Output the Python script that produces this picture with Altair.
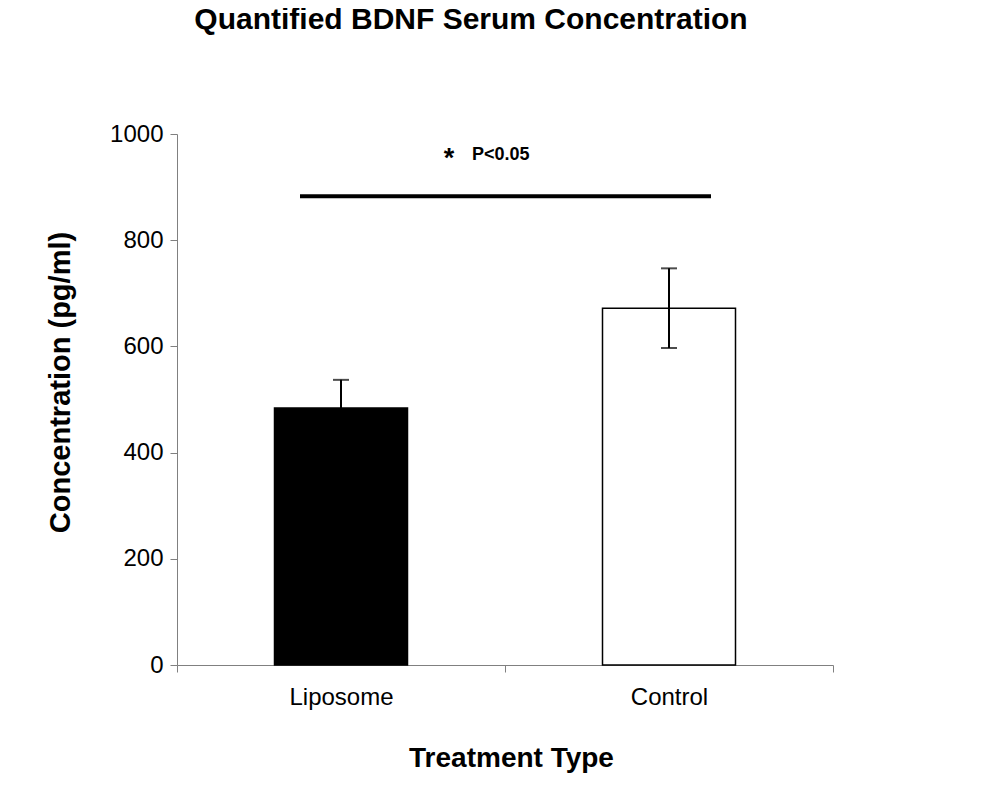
import altair as alt
import pandas as pd

# Data
categories = ["Liposome", "Control"]
means = [484, 672]
sems = [53, 75]
fills = ["#000000", "#ffffff"]
sig_y = [883]
sig_label_y = [960]

df = pd.DataFrame({
    "treatment": categories,
    "mean": means,
    "lower": [m - s for m, s in zip(means, sems)],
    "upper": [m + s for m, s in zip(means, sems)],
    "fill": fills,
})

FONT = "Liberation Sans"

x_enc = alt.X(
    "treatment:N",
    sort=categories,
    scale=alt.Scale(paddingInner=0, paddingOuter=0),
    axis=alt.Axis(
        title="Treatment Type",
        titleFont=FONT, titleFontSize=28, titleFontWeight="bold", titleColor="#000",
        titleX=334, titleY=93, titleBaseline="middle", titleAlign="center",
        labelFont=FONT, labelFontSize=24, labelColor="#000", labelAngle=0,
        labelPadding=13, tickSize=7, tickBand="extent",
        domainColor="#808080", tickColor="#808080", domainWidth=1, tickWidth=1,
    ),
)

y_scale = alt.Scale(domain=[0, 1000], nice=False)
y_axis = alt.Axis(
    title="Concentration (pg/ml)",
    titleFont=FONT, titleFontSize=29, titleFontWeight="bold", titleColor="#000",
    titleX=-117, titleY=248, titleBaseline="middle", titleAlign="center", titleAngle=-90,
    labelFont=FONT, labelFontSize=24, labelColor="#000", labelPadding=7, format="d",
    tickSize=7, values=[0, 200, 400, 600, 800, 1000],
    domainColor="#808080", tickColor="#808080", domainWidth=1, tickWidth=1,
    grid=False,
)

bars = alt.Chart(df).mark_bar(stroke="#000", strokeWidth=1.5, size=133).encode(
    x=x_enc,
    y=alt.Y("mean:Q", scale=y_scale, axis=y_axis),
    fill=alt.Fill("fill:N", scale=None),
)

err_rule = alt.Chart(df).mark_rule(color="#000", strokeWidth=2).encode(
    x=alt.X("treatment:N", sort=categories),
    y="lower:Q",
    y2="upper:Q",
)
cap_top = alt.Chart(df).mark_tick(color="#000", thickness=2, size=16, orient="horizontal").encode(
    x=alt.X("treatment:N", sort=categories),
    y="upper:Q",
)
cap_bot = alt.Chart(df).mark_tick(color="#000", thickness=2, size=16, orient="horizontal").encode(
    x=alt.X("treatment:N", sort=categories),
    y="lower:Q",
)

sig_df = pd.DataFrame({"y": sig_y})
sig_line = alt.Chart(sig_df).mark_rule(color="#000", strokeWidth=4).encode(
    x=alt.value(123), x2=alt.value(534), y="y:Q",
)

lab_df = pd.DataFrame({"y": sig_label_y})
star = alt.Chart(lab_df).mark_text(
    text="*", font=FONT, fontSize=27, fontWeight="bold", color="#000", align="center", baseline="middle", dy=4
).encode(x=alt.value(272), y="y:Q")
ptext = alt.Chart(lab_df).mark_text(
    text="P<0.05", font=FONT, fontSize=18, fontWeight="bold", color="#000", align="left", baseline="middle"
).encode(x=alt.value(295), y="y:Q")

chart = alt.layer(bars, err_rule, cap_top, cap_bot, sig_line, star, ptext).properties(
    width=656,
    height=531,
    autosize=alt.AutoSizeParams(type="none"),
    padding={"left": 169, "top": 126, "right": 150, "bottom": 120},
    title=alt.TitleParams(
        text="Quantified BDNF Serum Concentration",
        font=FONT, fontSize=30, fontWeight="bold", color="#000",
        anchor="middle", dx=-34, offset=63, baseline="alphabetic",
    ),
).configure_view(stroke=None)

chart.save("out.html", embed_options={"renderer": "svg", "actions": False})
